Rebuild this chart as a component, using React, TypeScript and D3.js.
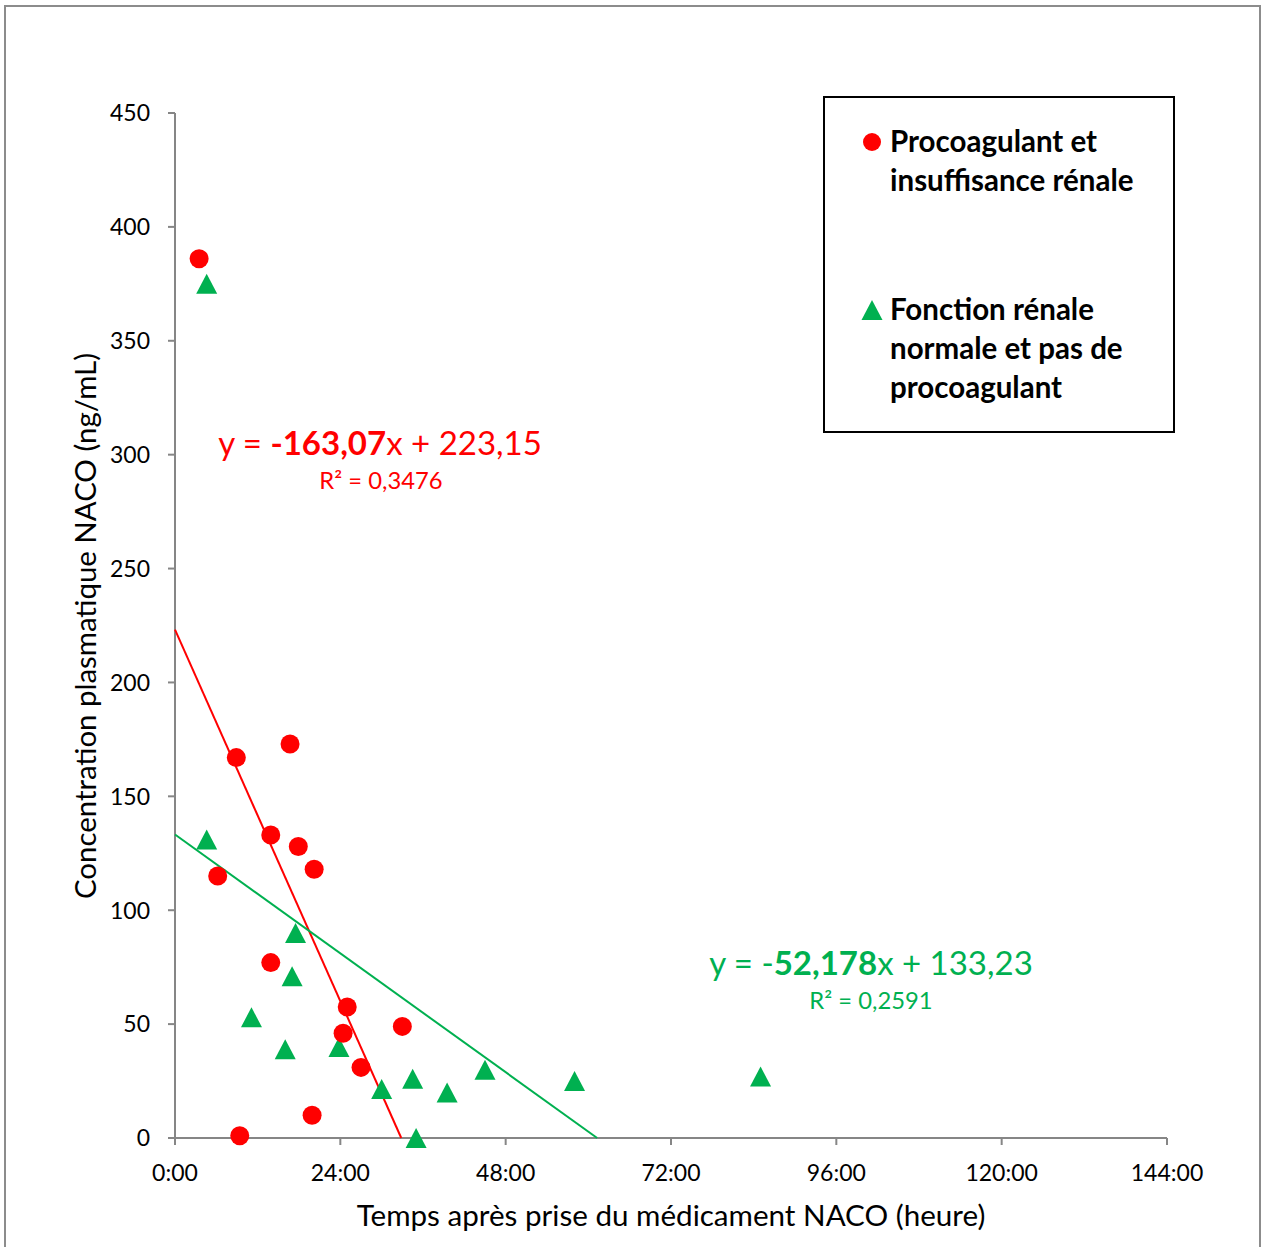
import * as d3 from "d3";

// Temps en heures, concentration en ng/mL
const redX = [3.5, 8.9, 16.7, 13.9, 17.9, 6.2, 20.2, 13.9, 25.0, 24.4, 33.0, 27.0, 19.9, 9.4];
const redY = [386, 167, 173, 133, 128, 115, 118, 77, 57.5, 46, 49, 31, 10, 1];

const greenX = [4.6, 4.6, 17.5, 17.0, 11.1, 16.0, 23.8, 30.0, 34.5, 39.5, 35.0, 45.0, 58.0, 85.0];
const greenY = [375, 131, 90, 71, 53, 39, 40, 21.5, 26, 20, 0, 30, 25, 27];

// trend lines, x in days
const redFit = { slope: -163.07, intercept: 223.15 };
const greenFit = { slope: -52.178, intercept: 133.23 };

const yTicks = [0, 50, 100, 150, 200, 250, 300, 350, 400, 450];
const xTicks = [0, 24, 48, 72, 96, 120, 144];

const legendRed = ["Procoagulant et", "insuffisance rénale"];
const legendGreen = ["Fonction rénale", "normale et pas de", "procoagulant"];

const RED = "#FF0000";
const GREEN = "#00B050";
const AXIS = "#868686";
const FONT = "Lato, 'Open Sans', sans-serif";

// excel-like triangle marker, a bit taller than equilateral
const triPath = (w: number, h: number) => {
  const p = d3.path();
  p.moveTo(0, -h / 2);
  p.lineTo(w / 2, h / 2);
  p.lineTo(-w / 2, h / 2);
  p.closePath();
  return p.toString();
};

export default function App() {
  const x = d3.scaleLinear().domain([0, 144]).range([175, 1167]);
  const y = d3.scaleLinear().domain([0, 450]).range([1138, 113]);

  const fitLine = (fit: { slope: number; intercept: number }) => {
    const xEnd = Math.min((-fit.intercept / fit.slope) * 24, 144);
    const pts: [number, number][] = [0, xEnd].map((h) => [h, fit.slope * (h / 24) + fit.intercept]);
    return d3
      .line<[number, number]>()
      .x((d) => x(d[0]))
      .y((d) => y(d[1]))(pts);
  };

  const tri = triPath(21, 20);

  return (
    <svg
      width={1262}
      height={1247}
      style={{ position: "absolute", left: 0, top: 0, background: "#fff" }}
      fontFamily={FONT}
    >
      <rect x={5} y={6} width={1255} height={1260} fill="#fff" stroke="#8c8c8c" strokeWidth={2} />

      {/* axes */}
      <line x1={x(0)} x2={x(0)} y1={y(450)} y2={y(0)} stroke={AXIS} strokeWidth={2} />
      <line x1={x(0)} x2={x(144)} y1={y(0)} y2={y(0)} stroke={AXIS} strokeWidth={2} />
      {yTicks.map((t) => (
        <g key={"y" + t}>
          <line x1={x(0) - 7} x2={x(0)} y1={y(t)} y2={y(t)} stroke={AXIS} strokeWidth={2} />
          <text x={150} y={y(t)} dy="0.36em" textAnchor="end" fontSize={23} fill="#000">
            {t}
          </text>
        </g>
      ))}
      {xTicks.map((t) => (
        <g key={"x" + t}>
          <line x1={x(t)} x2={x(t)} y1={y(0)} y2={y(0) + 7} stroke={AXIS} strokeWidth={2} />
          <text x={x(t)} y={1181} textAnchor="middle" fontSize={23} fill="#000">
            {`${t}:00`}
          </text>
        </g>
      ))}

      <text x={671} y={1226} textAnchor="middle" fontSize={29.6} fill="#000">
        Temps après prise du médicament NACO (heure)
      </text>
      <text
        transform={`translate(96,626) rotate(-90)`}
        textAnchor="middle"
        fontSize={29.4}
        fill="#000"
      >
        Concentration plasmatique NACO (ng/mL)
      </text>

      {/* trend lines */}
      <path d={fitLine(redFit) ?? ""} stroke={RED} strokeWidth={2} fill="none" />
      <path d={fitLine(greenFit) ?? ""} stroke={GREEN} strokeWidth={2} fill="none" />

      {/* points */}
      {greenX.map((h, i) => (
        <path key={"g" + i} d={tri} transform={`translate(${x(h)},${y(greenY[i])})`} fill={GREEN} />
      ))}
      {redX.map((h, i) => (
        <circle key={"r" + i} cx={x(h)} cy={y(redY[i])} r={9.5} fill={RED} />
      ))}

      {/* equations */}
      <text x={380} y={455} textAnchor="middle" fontSize={33} fill={RED}>
        y = <tspan fontWeight="bold">-163,07</tspan>x + 223,15
      </text>
      <text x={381} y={489} textAnchor="middle" fontSize={23.8} fill={RED}>
        R² = 0,3476
      </text>
      <text x={871} y={975} textAnchor="middle" fontSize={33} fill={GREEN}>
        y = -<tspan fontWeight="bold">52,178</tspan>x + 133,23
      </text>
      <text x={871} y={1009} textAnchor="middle" fontSize={23.8} fill={GREEN}>
        R² = 0,2591
      </text>

      {/* legend */}
      <rect x={824} y={97} width={350} height={335} fill="#fff" stroke="#000" strokeWidth={2} />
      <circle cx={872} cy={142} r={9} fill={RED} />
      {legendRed.map((s, i) => (
        <text key={s} x={890} y={152 + i * 39} fontSize={29.5} fontWeight="bold" fill="#000">
          {s}
        </text>
      ))}
      <path d={tri} transform="translate(872,310)" fill={GREEN} />
      {legendGreen.map((s, i) => (
        <text key={s} x={890} y={320 + i * 39} fontSize={29.5} fontWeight="bold" fill="#000">
          {s}
        </text>
      ))}
    </svg>
  );
}
